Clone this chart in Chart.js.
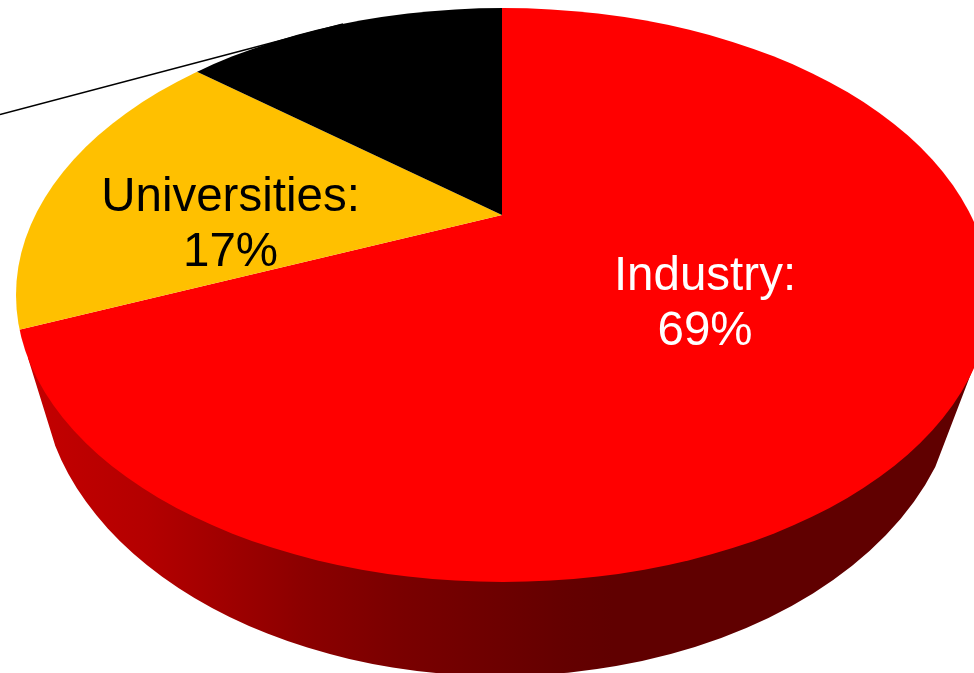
<!DOCTYPE html>
<html><head><meta charset="utf-8">
<style>html,body{margin:0;padding:0;background:#fff;overflow:hidden}canvas{display:block}</style>
<script src="https://cdn.jsdelivr.net/npm/chart.js@4"></script>
</head><body><canvas id="c" width="974" height="673"></canvas>
<script>
const categories = ["Industry", "Universities", "Other"];
const shares = [68.9, 16.8, 14.3];
const sliceColours = ["#FF0000", "#FFC000", "#000000"];
const labelLines = [["Industry:", "69%"], ["Universities:", "17%"], []];
const labelColours = ["#FFFFFF", "#000000", "#000000"];
const labelCentres = [[705, 276.5], [230.5, 198], [0, 0]];

// Look of the tilted disc (styling only)
const apex = { x: 502, y: 215 };
const squash = 0.59;
const topFace = { x: 503, y: 295, rx: 487, ry: 287 };
const bottomFace = { x: 500, y: 367, rx: 460, ry: 309 };
const sideStops = [[0, "#C80000"], [0.15, "#B40000"], [0.31, "#8C0000"], [0.41, "#7A0000"], [0.58, "#640000"], [0.63, "#600000"], [1, "#600000"]];

const tiltPlugin = {
  id: "tilt",
  beforeDatasetsDraw(chart) {
    const ctx = chart.ctx;
    const arc = chart.getDatasetMeta(0).data[0];
    // extruded side of the disc
    const g = ctx.createLinearGradient(0, 0, chart.width, 0);
    sideStops.forEach(s => g.addColorStop(s[0], s[1]));
    ctx.save();
    ctx.fillStyle = g;
    ctx.beginPath();
    ctx.moveTo(28, 358);
    ctx.lineTo(55, 445);
    const a0 = Math.PI - Math.asin((445 - bottomFace.y) / bottomFace.ry);
    const a1 = Math.asin((467 - bottomFace.y) / bottomFace.ry);
    ctx.ellipse(bottomFace.x, bottomFace.y, bottomFace.rx, bottomFace.ry, 0, a0, a1, true);
    ctx.lineTo(977, 358);
    ctx.closePath();
    ctx.fill();
    ctx.restore();
    // top face: the pie, squashed about its apex and cut to the tilted outline
    const scale = 680 / arc.outerRadius;
    ctx.save();
    ctx.beginPath();
    ctx.ellipse(topFace.x, topFace.y, topFace.rx, topFace.ry, 0, 0, Math.PI * 2);
    ctx.clip();
    ctx.translate(apex.x, apex.y);
    ctx.scale(scale, scale * squash);
    ctx.translate(-arc.x, -arc.y);
  },
  afterDatasetsDraw(chart) {
    const ctx = chart.ctx;
    ctx.restore();
    // leader line
    ctx.save();
    ctx.strokeStyle = "#000";
    ctx.lineWidth = 1.5;
    ctx.beginPath();
    ctx.moveTo(0, 114.5);
    ctx.lineTo(343, 24);
    ctx.stroke();
    // labels
    ctx.font = '47.5px "Liberation Sans", Arial, sans-serif';
    ctx.textAlign = "center";
    ctx.textBaseline = "middle";
    labelLines.forEach((lines, i) => {
      ctx.fillStyle = labelColours[i];
      lines.forEach((t, j) => ctx.fillText(t, labelCentres[i][0], labelCentres[i][1] + j * 55));
    });
    ctx.restore();
  }
};

new Chart(document.getElementById("c"), {
  type: "pie",
  data: {
    labels: categories,
    datasets: [{ data: shares, backgroundColor: sliceColours, borderWidth: 0, clip: false, hoverOffset: 0 }]
  },
  options: {
    responsive: false,
    devicePixelRatio: 1,
    animation: false,
    events: [],
    layout: { padding: 0 },
    plugins: { legend: { display: false }, tooltip: { enabled: false }, title: { display: false } }
  },
  plugins: [tiltPlugin]
});
</script></body></html>
